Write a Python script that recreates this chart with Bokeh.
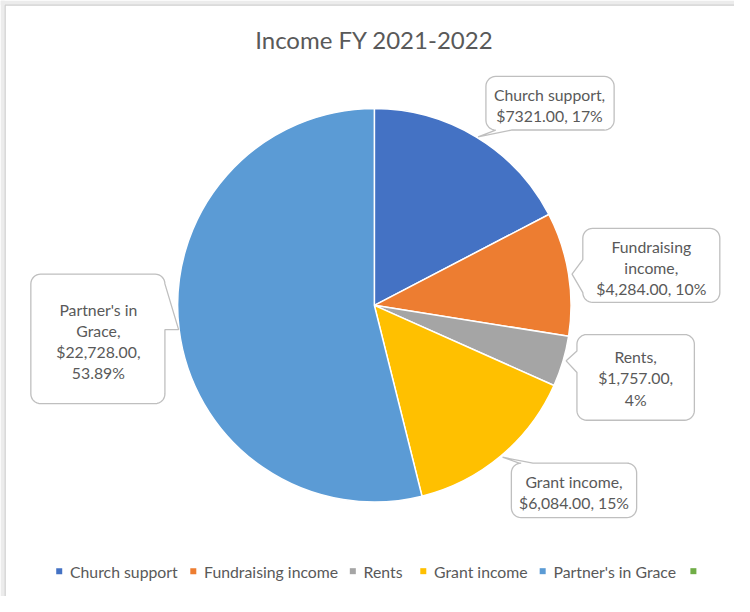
import math
from bokeh.plotting import figure
from bokeh.models import Range1d, ColumnDataSource
from bokeh.embed import file_html
from bokeh.resources import INLINE
from bokeh.core.properties import value

# ---------------- data ----------------
title_text = "Income FY 2021-2022"
categories = ["Church support", "Fundraising income", "Rents", "Grant income", "Partner's in Grace", ""]
amounts = [7321.00, 4284.00, 1757.00, 6084.00, 22728.00, 0.0]
colors = ["#4472C4", "#ED7D31", "#A5A5A5", "#FFC000", "#5B9BD5", "#70AD47"]
label_lines = [
    ["Church support,", "$7321.00, 17%"],
    ["Fundraising", "income,", "$4,284.00, 10%"],
    ["Rents,", "$1,757.00,", "4%"],
    ["Grant income,", "$6,084.00, 15%"],
    ["Partner's in", "Grace,", "$22,728.00,", "53.89%"],
]

# ---------------- layout (reference canvas coords, y downward) ----------------
W, H, M = 750, 612, 8
FONT = "Lato"
TXT = "#595959"
cx, cy, R = 382, 313, 201

boxes = [
    # x0, y0, x1, y1, tail side, a, b, tip
    (496, 78, 627, 133, "bottom", 506, 522, (488, 140)),
    (595, 234, 735, 310, "left", 266, 300, (584, 281)),
    (589, 343, 709, 431, "left", 360, 382, (578, 370)),
    (522, 475, 650, 531, "top", 530, 544, (513, 469)),
    (31, 281, 168, 414, "right", 291, 338, (182, 338)),
]
label_x = [561, 665, 649, 586, 100]
label_y0 = [97, 253, 366, 494, 317]
LINE_H = 21.6
legend_sq_x = [60, 197, 360, 432, 554, 708]
legend_y = 586


def Y(v):
    return H - v


p = figure(width=W - 2 * M, height=H - 2 * M,
           x_range=Range1d(0, W), y_range=Range1d(0, H),
           output_backend="svg", toolbar_location=None, min_border=0,
           x_axis_location=None, y_axis_location=None)
p.grid.visible = False
p.outline_line_color = None
p.background_fill_color = "white"
p.border_fill_color = "white"

# card frame (grey band + border at top and left, as in the screenshot)
p.quad(left=[0, 0], right=[4.5, W], bottom=[0, Y(4.5)], top=[H, H],
       fill_color="#ECECEC", line_color=None)
p.line(x=[4.8, 4.8, W], y=[0, Y(4.8), Y(4.8)], line_color="#D0D0D0", line_width=1.2)

# ---------------- pie ----------------
total = sum(amounts)
starts, ends, cols = [], [], []
cum = 0.0
for a, c in zip(amounts, colors):
    if a <= 0:
        continue
    s = math.pi / 2 - 2 * math.pi * (cum + a) / total
    e = math.pi / 2 - 2 * math.pi * cum / total
    starts.append(s)
    ends.append(e)
    cols.append(c)
    cum += a
src = ColumnDataSource(dict(start=starts, end=ends, color=cols))
p.wedge(x=cx, y=Y(cy), radius=R, start_angle="start", end_angle="end",
        fill_color="color", line_color="white", line_width=1.5, source=src)


# ---------------- callouts ----------------
def callout(x0, y0, x1, y1, r, side, a, b, tip):
    pts = []

    def arc(ax, ay, t0, t1):
        for k in range(9):
            t = math.radians(t0 + (t1 - t0) * k / 8)
            pts.append((ax + r * math.cos(t), ay + r * math.sin(t)))

    pts.append((x0 + r, y0))
    if side == "top":
        pts.extend([(a, y0), tip, (b, y0)])
    arc(x1 - r, y0 + r, -90, 0)
    if side == "right":
        pts.extend([(x1, a), tip, (x1, b)])
    arc(x1 - r, y1 - r, 0, 90)
    if side == "bottom":
        pts.extend([(b, y1), tip, (a, y1)])
    arc(x0 + r, y1 - r, 90, 180)
    if side == "left":
        pts.extend([(x0, b), tip, (x0, a)])
    arc(x0 + r, y0 + r, 180, 270)
    return [q[0] for q in pts], [Y(q[1]) for q in pts]


pxs, pys = [], []
for bx in boxes:
    xs, ys = callout(bx[0], bx[1], bx[2], bx[3], 10, bx[4], bx[5], bx[6], bx[7])
    pxs.append(xs)
    pys.append(ys)
p.patches(xs=pxs, ys=pys, fill_color="white", line_color="#BFBFBF", line_width=1.3)

tx, ty, tt = [], [], []
for lines, lx, ly in zip(label_lines, label_x, label_y0):
    for i, ln in enumerate(lines):
        tx.append(lx)
        ty.append(Y(ly + i * LINE_H))
        tt.append(ln)
p.text(x=tx, y=ty, text=tt, text_align="center", text_baseline="middle",
       text_font=value(FONT), text_font_size="15.8px", text_color=TXT)

# ---------------- title ----------------
p.text(x=[cx], y=[Y(40)], text=[title_text], text_align="center", text_baseline="middle",
       text_font=value(FONT), text_font_size="24px", text_color=TXT)

# ---------------- legend ----------------
p.scatter(x=legend_sq_x, y=[Y(legend_y)] * len(legend_sq_x), marker="square",
          size=6, fill_color=colors, line_color=None)
p.text(x=[v + 11 for v in legend_sq_x], y=[Y(legend_y)] * len(legend_sq_x), text=categories,
       text_align="left", text_baseline="middle",
       text_font=value(FONT), text_font_size="15.8px", text_color=TXT)

open("out.html", "w").write(file_html(p, INLINE))
